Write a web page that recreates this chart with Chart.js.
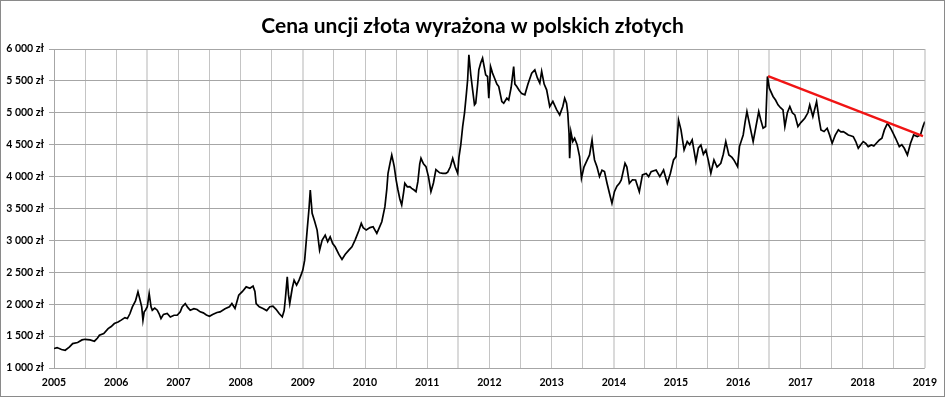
<!DOCTYPE html>
<html>
<head>
<meta charset="utf-8">
<script src="https://cdn.jsdelivr.net/npm/chart.js@4/dist/chart.umd.min.js"></script>
<style>
  html, body { margin: 0; padding: 0; background: #fff; }
  #wrap { width: 945px; height: 397px; position: relative; }
</style>
</head>
<body>
<div id="wrap"><canvas id="c" width="945" height="397"></canvas></div>
<script>
const chartTitle = 'Cena uncji złota wyrażona w polskich złotych';

const years = [
2005.00,2005.05,2005.12,2005.18,2005.25,2005.30,2005.38,2005.45,2005.50,2005.58,2005.65,2005.70,2005.73,2005.80,2005.87,2005.92,2005.97,
2006.03,2006.08,2006.14,2006.18,2006.22,2006.26,2006.31,2006.35,2006.38,2006.41,2006.43,2006.45,2006.47,2006.50,2006.53,2006.56,2006.58,2006.62,2006.66,2006.69,2006.72,2006.76,2006.82,2006.87,2006.93,2006.98,
2007.03,2007.06,2007.11,2007.15,2007.19,2007.25,2007.30,2007.35,2007.40,2007.45,2007.50,2007.55,2007.62,2007.67,2007.75,2007.82,2007.86,2007.91,2007.97,
2008.03,2008.09,2008.15,2008.20,2008.23,2008.25,2008.30,2008.36,2008.42,2008.47,2008.52,2008.57,2008.62,2008.67,2008.70,2008.72,2008.75,2008.77,2008.79,2008.83,2008.86,2008.90,2008.94,2008.98,
2009.00,2009.03,2009.07,2009.10,2009.12,2009.15,2009.19,2009.23,2009.27,2009.31,2009.36,2009.40,2009.44,2009.48,2009.52,2009.58,2009.63,2009.68,2009.74,2009.79,2009.84,2009.90,2009.94,2009.97,
2010.02,2010.08,2010.13,2010.19,2010.23,2010.27,2010.32,2010.35,2010.37,2010.40,2010.43,2010.45,2010.47,2010.50,2010.53,2010.56,2010.59,2010.62,2010.64,2010.68,2010.72,2010.75,2010.79,2010.82,2010.85,2010.88,2010.90,2010.94,2010.98,
2011.02,2011.06,2011.10,2011.14,2011.20,2011.25,2011.30,2011.33,2011.37,2011.41,2011.45,2011.49,2011.51,2011.54,2011.57,2011.60,2011.63,2011.65,2011.67,2011.70,2011.73,2011.76,2011.78,2011.81,2011.83,2011.86,2011.89,2011.92,2011.94,2011.97,2011.99,
2012.02,2012.05,2012.08,2012.12,2012.15,2012.20,2012.23,2012.28,2012.31,2012.35,2012.39,2012.41,2012.44,2012.48,2012.52,2012.57,2012.62,2012.68,2012.73,2012.77,2012.81,2012.84,2012.88,2012.92,2012.97,
2013.02,2013.08,2013.13,2013.18,2013.21,2013.24,2013.26,2013.28,2013.29,2013.31,2013.34,2013.37,2013.41,2013.45,2013.48,2013.52,2013.56,2013.61,2013.65,2013.67,2013.69,2013.73,2013.77,2013.81,2013.85,2013.89,2013.93,2013.97,
2014.01,2014.05,2014.09,2014.12,2014.18,2014.21,2014.25,2014.30,2014.35,2014.41,2014.46,2014.52,2014.56,2014.60,2014.68,2014.74,2014.80,2014.86,2014.91,2014.96,
2015.00,2015.04,2015.08,2015.13,2015.18,2015.22,2015.26,2015.32,2015.36,2015.40,2015.44,2015.48,2015.52,2015.56,2015.61,2015.66,2015.72,2015.76,2015.80,2015.85,2015.90,2015.93,2015.99,
2016.02,2016.08,2016.11,2016.14,2016.19,2016.24,2016.28,2016.33,2016.36,2016.40,2016.44,2016.47,2016.50,2016.56,2016.60,2016.64,2016.68,2016.72,2016.75,2016.79,2016.83,2016.87,2016.91,2016.96,
2017.01,2017.07,2017.12,2017.15,2017.20,2017.26,2017.30,2017.33,2017.38,2017.43,2017.47,2017.51,2017.56,2017.61,2017.65,2017.69,2017.73,2017.77,2017.81,2017.85,2017.89,2017.93,2017.97,
2018.01,2018.05,2018.09,2018.14,2018.18,2018.22,2018.27,2018.31,2018.35,2018.40,2018.45,2018.49,2018.53,2018.59,2018.63,2018.67,2018.72,2018.77,2018.82,2018.88,2018.93,2018.97,2019.00
];

const prices = [
1305,1320,1290,1278,1330,1383,1400,1440,1450,1440,1420,1470,1513,1540,1618,1650,1697,
1720,1750,1790,1775,1850,1958,2050,2193,2080,1958,1750,1880,1906,1960,2168,1960,1906,1940,1906,1850,1775,1840,1854,1800,1827,1827,
1880,1958,2010,1950,1906,1930,1917,1880,1864,1830,1812,1840,1870,1879,1930,1960,2011,1933,2141,
2200,2272,2250,2283,2200,2011,1960,1933,1900,1960,1969,1920,1854,1801,1900,2089,2429,2150,2011,2250,2377,2300,2377,2480,
2534,2690,3162,3500,3790,3424,3300,3162,2848,3000,3083,2980,3057,2950,2900,2780,2702,2780,2848,2900,3005,3150,3267,3200,
3162,3200,3214,3110,3200,3293,3528,3800,4052,4200,4339,4250,4156,3950,3790,3650,3555,3750,3895,3840,3842,3816,3790,3764,3921,4200,4287,4200,4156,
4000,3764,3900,4110,4060,4052,4052,4070,4150,4287,4150,4052,4300,4500,4784,5000,5300,5517,5910,5600,5360,5124,5150,5440,5674,5780,5857,5700,5595,5569,5229,
5720,5622,5550,5450,5412,5176,5151,5229,5200,5400,5726,5450,5412,5350,5300,5282,5450,5622,5674,5550,5465,5648,5450,5360,5098,
5180,5050,4967,5100,5229,5150,4994,4680,4287,4700,4550,4601,4500,4313,3974,4150,4235,4339,4575,4400,4261,4150,4000,4100,4078,3900,3738,3581,
3764,3850,3895,3947,4209,4150,3895,3950,3947,3764,4026,4050,4000,4078,4104,4000,4104,3895,4052,4261,
4313,4889,4732,4418,4549,4500,4575,4235,4450,4496,4350,4418,4250,4052,4261,4150,4209,4350,4549,4339,4300,4261,4156,
4470,4653,4850,5019,4784,4549,4758,5019,4900,4758,4784,5569,5386,5256,5200,5124,5080,5046,4784,5000,5098,5000,4967,4784,
4850,4915,5000,5124,4941,5176,4900,4732,4706,4758,4650,4523,4650,4732,4700,4706,4680,4653,4640,4627,4550,4444,4500,
4549,4520,4470,4496,4480,4523,4575,4600,4732,4836,4758,4680,4601,4470,4500,4444,4339,4523,4653,4627,4653,4784,4862
];

const trendYears = [2016.48, 2018.97];
const trendPrices = [5575, 4635];

const yTicks = [1000,1500,2000,2500,3000,3500,4000,4500,5000,5500,6000];
const xMin = 2005, xMax = 2019;

function plFmt(v){ return String(v).replace(/\B(?=(\d{3})+(?!\d))/g, ' ') + ' zł'; }

const priceData = years.map((x,i)=>({x:x, y:prices[i]}));
const trendData = trendYears.map((x,i)=>({x:x, y:trendPrices[i]}));

const FONT = 'Lato, "Liberation Sans", sans-serif';

const framePlugin = {
  id: 'frame',
  afterDraw(chart){
    const ctx = chart.ctx;
    ctx.save();
    ctx.strokeStyle = '#8a8a8a';
    ctx.lineWidth = 1;
    ctx.strokeRect(0.5, 0.5, chart.width-1, chart.height-1);
    ctx.fillStyle = '#000';
    ctx.font = 'bold 21px ' + FONT;
    ctx.textAlign = 'center';
    ctx.textBaseline = 'alphabetic';
    ctx.fillText(chartTitle, 472.5, 32.5);
    ctx.restore();
  }
};

new Chart(document.getElementById('c'), {
  type: 'line',
  data: {
    datasets: [
      { data: trendData, borderColor: '#f01414', borderWidth: 2.3, pointRadius: 0, tension: 0, order: 0 },
      { data: priceData, borderColor: '#000000', borderWidth: 1.7, pointRadius: 0, tension: 0, order: 1 }
    ]
  },
  options: {
    responsive: false,
    animation: false,
    events: [],
    layout: { padding: { top: 49, right: 12, bottom: 0, left: 0 } },
    plugins: { legend: { display: false }, title: { display: false }, tooltip: { enabled: false } },
    scales: {
      x: {
        type: 'linear', min: xMin, max: xMax,
        afterFit(s){ s.height = 29; },
        afterBuildTicks(s){
          const t = [];
          for (let v = xMin; v <= xMax + 1e-9; v += 0.5) t.push({value: v});
          s.ticks = t;
        },
        ticks: {
          autoSkip: false, maxRotation: 0, padding: 8,
          color: '#000', font: { family: FONT, size: 10.5, weight: 'bold' },
          callback: (v) => Math.abs(v - Math.round(v)) < 1e-6 ? String(Math.round(v)) : ''
        },
        grid: {
          drawTicks: false,
          color: (c) => {
            const v = c.tick ? c.tick.value : 0;
            const k = Math.round((v - xMin) * 2);
            return (k % 5 === 3) || (k === 28) ? '#dadada' : '#c4c4c4';
          },
          lineWidth: (c) => {
            const v = c.tick ? c.tick.value : 0;
            const k = Math.round((v - xMin) * 2);
            return (k % 5 === 3) || (k === 28) ? 2 : 1;
          }
        },
        border: { display: false }
      },
      y: {
        min: 1000, max: 6000,
        afterFit(s){ s.width = 54; },
        afterBuildTicks(s){ s.ticks = yTicks.map(v=>({value:v})); },
        ticks: {
          padding: 5, color: '#000',
          font: { family: FONT, size: 10.5, weight: 'bold' },
          callback: (v) => plFmt(v)
        },
        grid: { color: '#a6a6a6', lineWidth: 1, tickLength: 5 },
        border: { display: true, color: '#a6a6a6' }
      }
    }
  },
  plugins: [framePlugin]
});
</script>
</body>
</html>
